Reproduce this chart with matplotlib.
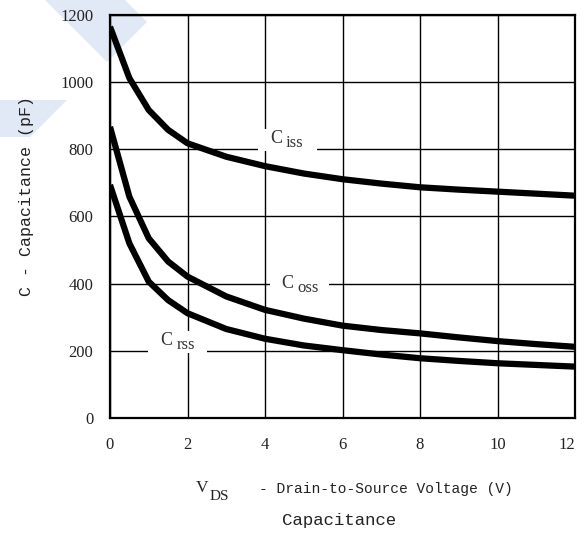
import matplotlib
matplotlib.use("Agg")
import matplotlib.pyplot as plt
from matplotlib.patches import Polygon, Rectangle

# drain-to-source voltage (V)
vds = [0, 0.5, 1, 1.5, 2, 3, 4, 5, 6, 7, 8, 9, 10, 11, 12]
# capacitances (pF)
ciss = [1165, 1012, 917, 858, 818, 778, 750, 728, 711, 698, 687, 680, 674, 668, 662]
coss = [867, 659, 535, 466, 421, 362, 322, 296, 275, 262, 252, 240, 229, 220, 212]
crss = [694, 520, 406, 351, 312, 265, 236, 216, 202, 189, 178, 170, 163, 158, 153]

x_ticks = [0, 2, 4, 6, 8, 10, 12]
y_ticks = [0, 200, 400, 600, 800, 1000, 1200]

W, H = 587, 536
fig = plt.figure(figsize=(W / 100, H / 100), dpi=100)

# faint watermark stripes in the upper-left corner
wm = "#e1e8f6"
for pts in ([(45, 0), (125, 0), (147, 22), (107, 62)],
            [(0, 100), (67, 100), (30, 137), (0, 137)]):
    fig.patches.append(Polygon([(x / W, 1 - y / H) for x, y in pts],
                               closed=True, transform=fig.transFigure,
                               facecolor=wm, edgecolor="none", zorder=-1))

ax = fig.add_axes([110 / W, (H - 418) / H, 465 / W, 403 / H])
ax.set_facecolor("none")

for series in (ciss, coss, crss):
    ax.plot(vds, series, color="black", lw=4.5, solid_capstyle="butt", zorder=4)

ax.set_xlim(0, 12)
ax.set_ylim(0, 1200)
ax.set_xticks(x_ticks)
ax.set_yticks(y_ticks)
ax.grid(True, color="black", lw=1.0)
ax.set_axisbelow(True)
ax.tick_params(length=0, labelsize=12, labelcolor="#222222")
ax.tick_params(axis="x", pad=14)
ax.tick_params(axis="y", pad=12)
for lab in ax.get_xticklabels() + ax.get_yticklabels():
    lab.set_fontfamily("Liberation Serif")
ax.get_xticklabels()[-1].set_horizontalalignment("right")
for s in ax.spines.values():
    s.set_linewidth(1.6)

serif = "Liberation Serif"


def curve_label(x, y, sub):
    # white patch that breaks the grid lines, then "C" and the lowered subscript
    ax.add_patch(Rectangle((x - 0.76, y - 33), 1.52, 66, facecolor="white",
                           edgecolor="none", zorder=3))
    ax.annotate("C", (x, y), xytext=(-4, 1), textcoords="offset points",
                fontsize=13, family=serif, color="#333333",
                ha="right", va="center", zorder=5)
    ax.annotate(sub, (x, y), xytext=(-1, -2), textcoords="offset points",
                fontsize=12, family=serif, color="#333333",
                ha="left", va="center", zorder=5)


curve_label(4.58, 828, "iss")
curve_label(4.88, 396, "oss")
curve_label(1.75, 226, "rss")

mono = "Liberation Mono"
ink = "#222222"
fig.text(27 / W, 1 - 196 / H, "C - Capacitance (pF)", rotation=90, fontsize=12,
         family=mono, ha="center", va="center", color=ink)
fig.text(196 / W, 1 - 488 / H, "V", fontsize=12.5, family=serif,
         ha="left", va="center", color=ink)
fig.text(210 / W, 1 - 496 / H, "DS", fontsize=11, family=serif,
         ha="left", va="center", color=ink)
fig.text(513 / W, 1 - 489 / H, "- Drain-to-Source Voltage (V)", fontsize=10.5,
         family=mono, ha="right", va="center", color=ink)
fig.text(339 / W, 1 - 521 / H, "Capacitance", fontsize=12.5, family=mono,
         ha="center", va="center", color=ink)

fig.savefig("out.png", dpi=100)
